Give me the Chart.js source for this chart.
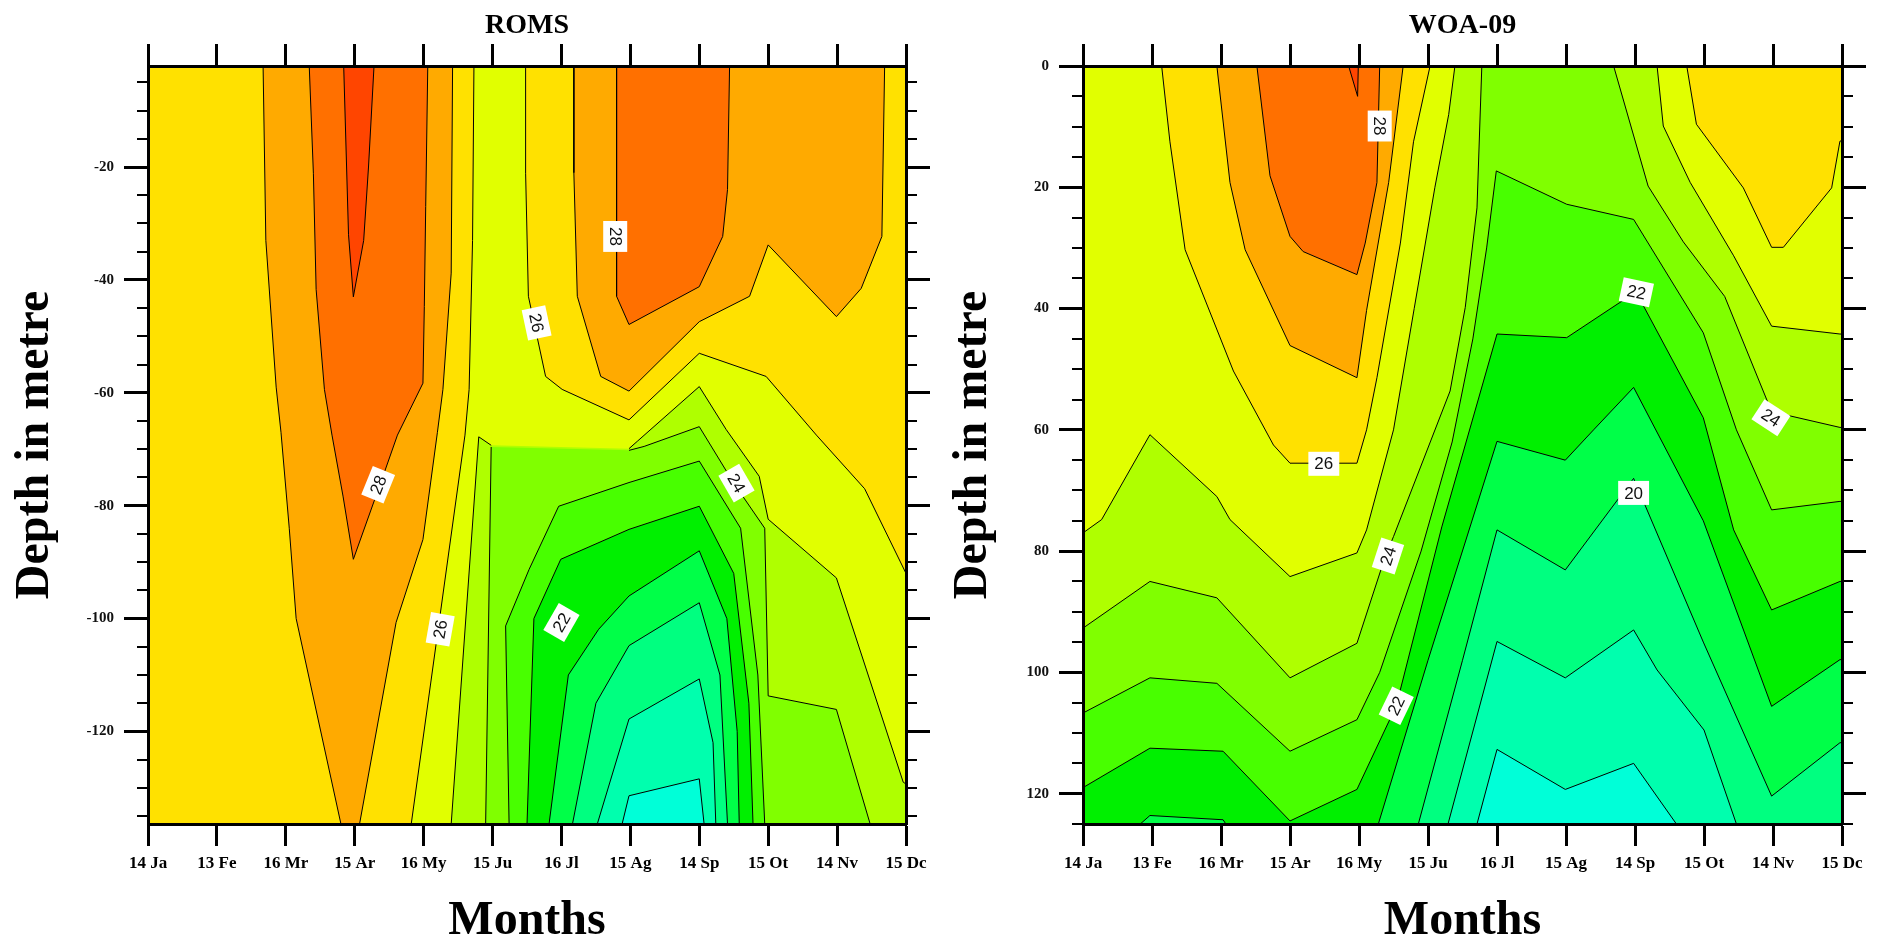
<!DOCTYPE html>
<html>
<head>
<meta charset="utf-8">
<script src="https://cdn.jsdelivr.net/npm/chart.js@4.4.0/dist/chart.umd.min.js"></script>
<style>
  body { margin: 0; background: #fff; }
  canvas { position: absolute; top: 0; }
</style>
</head>
<body>
<canvas id="roms" width="940" height="946" style="left:0"></canvas>
<canvas id="woa" width="941" height="946" style="left:940px"></canvas>
<script>
// Months (x = month index) and depth ticks
const monthLabels = ['14 Ja', '13 Fe', '16 Mr', '15 Ar', '16 My', '15 Ju', '16 Jl', '15 Ag', '14 Sp', '15 Ot', '14 Nv', '15 Dc'];
const monthIndex = [0, 1, 2, 3, 4, 5, 6, 7, 8, 9, 10, 11];
const romsDepthTicks = [-120, -100, -80, -60, -40, -20];
const woaDepthTicks = [0, 20, 40, 60, 80, 100, 120];
const romsDepthRange = [-136.4, -2.1];
const woaDepthRange = [0, 125];

// ROMS contour regions, [month index, depth]
const romsAll = [[0, -136.4], [0, -2.1], [11, -2.1], [11, -136.4]];
const roms27a = [[1.67, -2.1], [1.71, -33], [1.86, -59], [1.93, -67], [2.05, -84], [2.15, -100], [2.80, -136.4], [3.07, -136.4], [3.60, -100.7], [3.99, -86], [4.20, -67], [4.28, -59.4], [4.40, -38.8], [4.42, -2.1]];
const roms27b = [[6.18, -2.1], [6.18, -21], [6.23, -42.9], [6.57, -57.1], [6.98, -59.7], [8.0, -47.4], [8.73, -42.9], [9.0, -33.8], [9.99, -46.5], [10.35, -41.5], [10.65, -32.3], [10.69, -2.1]];
const roms28a = [[2.34, -2.1], [2.40, -21.1], [2.44, -41.7], [2.56, -59.4], [2.67, -67.5], [2.83, -78.3], [2.98, -89.5], [3.41, -74.8], [3.62, -67.5], [3.99, -58.3], [4.01, -44.7], [4.03, -27], [4.06, -2.1]];
const roms28b = [[6.80, -2.1], [6.80, -42.9], [6.98, -47.9], [8.0, -41.2], [8.34, -32.3], [8.41, -24], [8.44, -2.1]];
const roms29 = [[2.84, -2.1], [2.91, -32], [2.98, -43], [3.13, -33], [3.20, -20], [3.28, -2.1]];
const roms26 = [[4.73, -2.1], [4.71, -33], [4.66, -59.4], [4.60, -67.5], [3.82, -136.4], [11, -136.4], [11, -92], [10.4, -77], [9.7, -67.5], [8.97, -57.1], [8.0, -53], [6.98, -64.8], [6.01, -59.4], [5.77, -57.1], [5.52, -42.9], [5.48, -21.1], [5.48, -2.1]];
const roms25 = [[4.98, -69.3], [4.80, -67.8], [4.40, -136.4], [11, -136.4], [11, -129.3], [10.96, -129], [9.99, -92.8], [9.0, -82.4], [8.87, -74.8], [8.39, -66.5], [8.0, -58.9], [7.1, -68.6], [6.98, -69.9]];
const roms24 = [[4.98, -69.6], [4.90, -136.4], [10.48, -136.4], [9.99, -116.1], [9.0, -113.7], [8.95, -84], [8.5, -76], [8.0, -66.0], [7.2, -69.5], [6.98, -70.2]];
const roms23 = [[5.24, -136.4], [5.19, -101.3], [5.53, -91.3], [5.96, -80.1], [6.98, -75.9], [8.0, -72.1], [8.6, -84], [8.85, -110], [8.95, -136.4]];
const roms22 = [[5.50, -136.4], [5.6, -100], [5.99, -89.5], [6.98, -84.2], [8.0, -80.1], [8.5, -92], [8.72, -115], [8.78, -136.4]];
const roms21 = [[5.82, -136.4], [6.1, -110], [6.54, -101.9], [6.98, -96], [8.0, -88], [8.4, -100], [8.55, -120], [8.58, -136.4]];
const roms20 = [[6.16, -136.4], [6.5, -115], [6.98, -104.8], [8.0, -97.2], [8.3, -110], [8.41, -136.4]];
const roms19 = [[6.52, -136.4], [6.98, -117.8], [8.0, -110.7], [8.2, -122], [8.24, -136.4]];
const roms18 = [[6.88, -136.4], [6.98, -131.4], [8.0, -128.4], [8.07, -136.4]];

// WOA-09 contour regions
const woaAll = [[0, 125], [0, 0], [11, 0], [11, 125]];
const woa26a = [[1.14, 0], [1.26, 12.5], [1.48, 30.3], [2.18, 50.3], [2.76, 62.5], [3.0, 65.5], [3.97, 65.5], [4.11, 60], [4.26, 51.4], [4.6, 29.2], [4.79, 12.5], [5.03, 0]];
const woa27 = [[1.94, 0], [2.13, 19.2], [2.35, 30.3], [3.0, 46.1], [3.97, 51.4], [4.11, 40.3], [4.43, 19.2], [4.64, 0]];
const woa28 = [[2.52, 0], [2.71, 18.1], [3.0, 28.1], [3.19, 30.6], [3.97, 34.4], [4.09, 29.2], [4.26, 19.2], [4.30, 0]];
const woa29 = [[3.85, 0], [3.98, 5], [3.99, 0]];
const woa26b = [[8.75, 0], [8.89, 9.6], [9.57, 20.1], [9.98, 29.9], [10.15, 29.9], [10.85, 20.1], [10.97, 12.4], [11, 12.3], [11, 0]];
const woa25 = [[0, 77], [0.27, 74.8], [0.97, 60.8], [1.94, 71], [2.13, 74.8], [3.0, 84.2], [3.97, 80.3], [4.11, 76.5], [4.5, 60], [4.8, 40], [5.1, 20], [5.3, 8], [5.39, 0], [8.32, 0], [8.41, 9.9], [8.8, 19.2], [9.43, 31.3], [9.98, 42.9], [10.97, 44.2], [11, 44.2], [11, 125], [0, 125]];
const woa24 = [[0, 92.7], [0.97, 85], [1.94, 87.7], [3.0, 100.9], [3.97, 95.2], [4.38, 80.9], [4.5, 77.6], [5.32, 53.6], [5.54, 39.8], [5.71, 23.4], [5.78, 0], [7.69, 0], [8.19, 19.8], [8.7, 29], [9.3, 38], [9.98, 57], [10.97, 59.6], [11, 59.6], [11, 125], [0, 125]];
const woa23 = [[0, 106.7], [0.97, 100.9], [1.94, 101.8], [3.0, 113], [3.97, 107.8], [4.3, 100], [4.9, 80], [5.35, 62], [5.65, 45], [5.85, 30], [5.99, 17.3], [7.01, 22.8], [7.98, 25.3], [8.99, 44], [9.47, 60], [9.98, 73.2], [10.97, 71.8], [11, 71.8], [11, 125], [0, 125]];
const woa22 = [[0, 119], [0.97, 112.5], [2.03, 113], [3.0, 124.5], [3.97, 119.3], [4.54, 105.5], [5.2, 76], [6.0, 44.2], [7.01, 44.8], [7.74, 39.3], [8.0, 37.4], [8.12, 39.5], [8.99, 58], [9.43, 76.5], [9.98, 89.7], [10.97, 85], [11, 85], [11, 125], [0, 125]];
const woa21a = [[0.83, 125], [0.97, 123.6], [2.03, 124.3], [2.07, 125]];
const woa21b = [[4.28, 125], [5.0, 98], [6.0, 61.9], [6.99, 65], [7.4, 60], [7.98, 53], [8.99, 75], [9.98, 105.6], [10.97, 97.9], [11, 97.9], [11, 125]];
const woa20 = [[4.86, 125], [5.5, 98], [6.0, 76.5], [6.99, 83.1], [7.98, 68], [8.99, 95], [9.98, 120.4], [10.97, 111.6], [11, 111.6], [11, 125]];
const woa19 = [[5.29, 125], [6.0, 94.9], [6.99, 100.9], [7.98, 93], [8.32, 99.6], [9.0, 109.5], [9.47, 125]];
const woa18 = [[5.71, 125], [6.0, 112.7], [6.99, 119.3], [7.98, 115], [8.6, 125]];

// Contour labels
const romsLabelText = ['28', '26', '28', '26', '22', '24'];
const romsLabelMonth = [6.78, 5.64, 3.34, 4.24, 6.0, 8.54];
const romsLabelDepth = [-32.3, -47.6, -76.3, -101.9, -100.7, -76];
const romsLabelAngle = [90, 78, -68, -80, -60, 60];
const woaLabelText = ['28', '26', '24', '22', '22', '24', '20'];
const woaLabelMonth = [4.3, 3.49, 4.42, 4.54, 8.02, 9.97, 7.98];
const woaLabelDepth = [9.9, 65.6, 80.8, 105.5, 37.3, 58, 70.4];
const woaLabelAngle = [90, 0, -72, -64, 12, 33, 0];

// colour for each 1 degree band (by lower bound)
const bandColor = {
  29: '#FF4500', 28: '#FF7000', 27: '#FFAA00', 26: '#FFE100', 25: '#E1FF00',
  24: '#AFFF00', 23: '#80FF00', 22: '#48FF00', 21: '#00F000', 20: '#00FF48',
  19: '#00FF80', 18: '#00FFAE', 17: '#00FFD8'
};

// painting order: base, warm regions going up, cold regions going down
const romsPaint = [
  [romsAll, 26], [roms27a, 27], [roms27b, 27], [roms28a, 28], [roms28b, 28], [roms29, 29],
  [roms26, 25], [roms25, 24], [roms24, 23], [roms23, 22], [roms22, 21],
  [roms21, 20], [roms20, 19], [roms19, 18], [roms18, 17]
];
const woaPaint = [
  [woaAll, 25], [woa26a, 26], [woa27, 27], [woa28, 28], [woa29, 29], [woa26b, 26],
  [woa25, 24], [woa24, 23], [woa23, 22], [woa22, 21], [woa21a, 20], [woa21b, 20],
  [woa20, 19], [woa19, 18], [woa18, 17]
];

const serif = 'Liberation Serif, Times New Roman, serif';

function makeDatasets(paint) {
  return paint.map(function(item, k) {
    return {
      data: item[0].map(p => ({x: p[0], y: p[1]})),
      showLine: true,
      fill: 'shape',
      backgroundColor: bandColor[item[1]],
      borderColor: k === 0 ? 'rgba(0,0,0,0)' : '#000',
      borderWidth: 1,
      pointRadius: 0,
      pointHoverRadius: 0,
      order: paint.length - k
    };
  });
}

// minor depth ticks every 5 m, on both sides
const minorTicks = {
  id: 'minorTicks',
  afterDraw(chart) {
    const y = chart.scales.y;
    const a = chart.chartArea;
    const ctx = chart.ctx;
    ctx.save();
    ctx.strokeStyle = '#000';
    ctx.lineWidth = 2;
    for (let v = Math.ceil(y.min / 5) * 5; v <= y.max; v += 5) {
      if (v % 20 === 0) continue;
      const py = Math.round(y.getPixelForValue(v));
      ctx.beginPath();
      ctx.moveTo(a.left - 11, py);
      ctx.lineTo(a.left, py);
      ctx.moveTo(a.right, py);
      ctx.lineTo(a.right + 11, py);
      ctx.stroke();
    }
    ctx.restore();
  }
};

function labelPlugin(text, month, depth, angle) {
  return {
    id: 'contourLabels',
    afterDatasetsDraw(chart) {
      const ctx = chart.ctx;
      const x = chart.scales.x, y = chart.scales.y;
      ctx.save();
      ctx.font = '17px "Liberation Sans", Arial, sans-serif';
      ctx.textAlign = 'center';
      ctx.textBaseline = 'middle';
      text.forEach(function(t, k) {
        ctx.save();
        ctx.translate(x.getPixelForValue(month[k]), y.getPixelForValue(depth[k]));
        ctx.rotate(angle[k] * Math.PI / 180);
        const w = ctx.measureText(t).width + 12;
        ctx.fillStyle = '#fff';
        ctx.fillRect(-w / 2, -12, w, 24);
        ctx.fillStyle = '#111';
        ctx.fillText(t, 0, 1);
        ctx.restore();
      });
      ctx.restore();
    }
  };
}

function makeChart(id, cfg) {
  const frame = {display: true, width: 3, color: '#000', z: 1};
  const monthTicks = s => { s.ticks = monthIndex.map(v => ({value: v})); };
  const depthTicks = s => { s.ticks = cfg.depthTicks.map(v => ({value: v})); };
  const yCommon = {
    type: 'linear', min: cfg.range[0], max: cfg.range[1], reverse: cfg.reverse,
    afterBuildTicks: depthTicks,
    grid: {drawOnChartArea: false, tickLength: 24, tickWidth: 3, tickColor: '#000'},
    border: frame
  };
  new Chart(document.getElementById(id), {
    type: 'scatter',
    data: {datasets: makeDatasets(cfg.paint)},
    options: {
      responsive: false,
      animation: false,
      events: [],
      layout: {padding: 0, autoPadding: false},
      plugins: {legend: {display: false}, tooltip: {enabled: false}},
      scales: {
        x: {
          type: 'linear', position: 'bottom', min: 0, max: 11,
          afterBuildTicks: monthTicks,
          ticks: {
            callback: v => monthLabels[v], autoSkip: false, maxRotation: 0, padding: 7,
            color: '#000', font: {family: serif, weight: 'bold', size: 17}
          },
          grid: {drawOnChartArea: false, tickLength: 22, tickWidth: 3, tickColor: '#000'},
          border: frame,
          title: {
            display: true, text: 'Months', color: '#000', padding: 0,
            font: {family: serif, weight: 'bold', size: 48, lineHeight: 1}
          },
          afterFit: s => { s.height = 122; }
        },
        xTop: {
          type: 'linear', position: 'top', min: 0, max: 11,
          afterBuildTicks: monthTicks,
          ticks: {display: false},
          grid: {drawOnChartArea: false, tickLength: 22, tickWidth: 3, tickColor: '#000'},
          border: frame,
          title: {
            display: true, text: cfg.title, color: '#000', padding: {top: 9, bottom: 0},
            font: {family: serif, weight: 'bold', size: 28, lineHeight: 1.2}
          },
          afterFit: s => { s.height = 66; }
        },
        y: Object.assign({}, yCommon, {
          position: 'left',
          ticks: {padding: 10, color: '#111', font: {family: serif, weight: 'bold', size: 15}},
          title: {
            display: true, text: 'Depth in metre', color: '#000', padding: {top: cfg.titlePad, bottom: 0},
            font: {family: serif, weight: 'bold', size: 48, lineHeight: 1.2}
          },
          afterFit: s => { s.width = cfg.leftWidth; }
        }),
        yRight: Object.assign({}, yCommon, {
          position: 'right',
          ticks: {display: false},
          afterFit: s => { s.width = cfg.rightWidth; }
        })
      }
    },
    plugins: [minorTicks, labelPlugin(cfg.labels[0], cfg.labels[1], cfg.labels[2], cfg.labels[3])]
  });
}

makeChart('roms', {
  title: 'ROMS', paint: romsPaint, range: romsDepthRange, reverse: false,
  depthTicks: romsDepthTicks, leftWidth: 148, rightWidth: 34, titlePad: 7,
  labels: [romsLabelText, romsLabelMonth, romsLabelDepth, romsLabelAngle]
});
makeChart('woa', {
  title: 'WOA-09', paint: woaPaint, range: woaDepthRange, reverse: true,
  depthTicks: woaDepthTicks, leftWidth: 143, rightWidth: 39, titlePad: 5,
  labels: [woaLabelText, woaLabelMonth, woaLabelDepth, woaLabelAngle]
});
</script>
</body>
</html>
